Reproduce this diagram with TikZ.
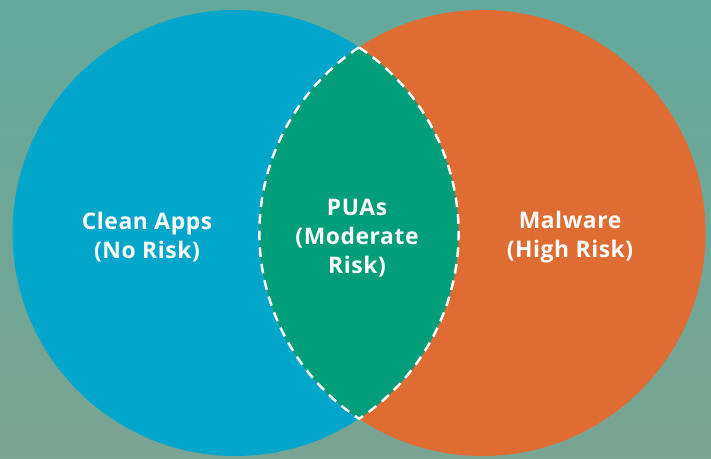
\documentclass[tikz,border=0pt]{standalone}
\usepackage{fontspec}
\setmainfont{Open Sans}[LetterSpace=2.5]
\definecolor{bgtop}{HTML}{63A99B}
\definecolor{bgbot}{HTML}{7AA493}
\definecolor{appblue}{HTML}{02A6CB}
\definecolor{malorange}{HTML}{DE6C33}
\definecolor{puagreen}{HTML}{029D79}
\tikzset{label text/.style={text=white, align=center, font=\bfseries\fontsize{13}{16.4}\selectfont}}
\begin{document}
\begin{tikzpicture}[x=.2mm, y=.2mm, line join=round]
            \shade[top color=bgtop, bottom color=bgbot] (0,0) rectangle (711,458);
            \coordinate (cl) at (235.5,225);
            \coordinate (cr) at (482.5,225);
            \coordinate (top) at (359,410.7);
            \fill[appblue] (cl) circle (223);
            \fill[malorange] (cr) circle (223);
            % overlap: left arc of the right circle, then right arc of the left circle
            \draw[white, fill=puagreen, line width=1.4pt, dash pattern=on 5.5pt off 4pt] (top)
            arc[start angle=123.6, end angle=236.4, radius=223]
            arc[start angle=-56.4, end angle=56.4, radius=223] -- cycle;
            \node[label text] (clean) at (147,221) {Clean Apps\\(No Risk)};
            \node[label text] (pua) at (357,220) {PUAs\\(Moderate\\Risk)};
            \node[label text] (malware) at (570,221) {Malware\\(High Risk)};
\end{tikzpicture}
\end{document}
